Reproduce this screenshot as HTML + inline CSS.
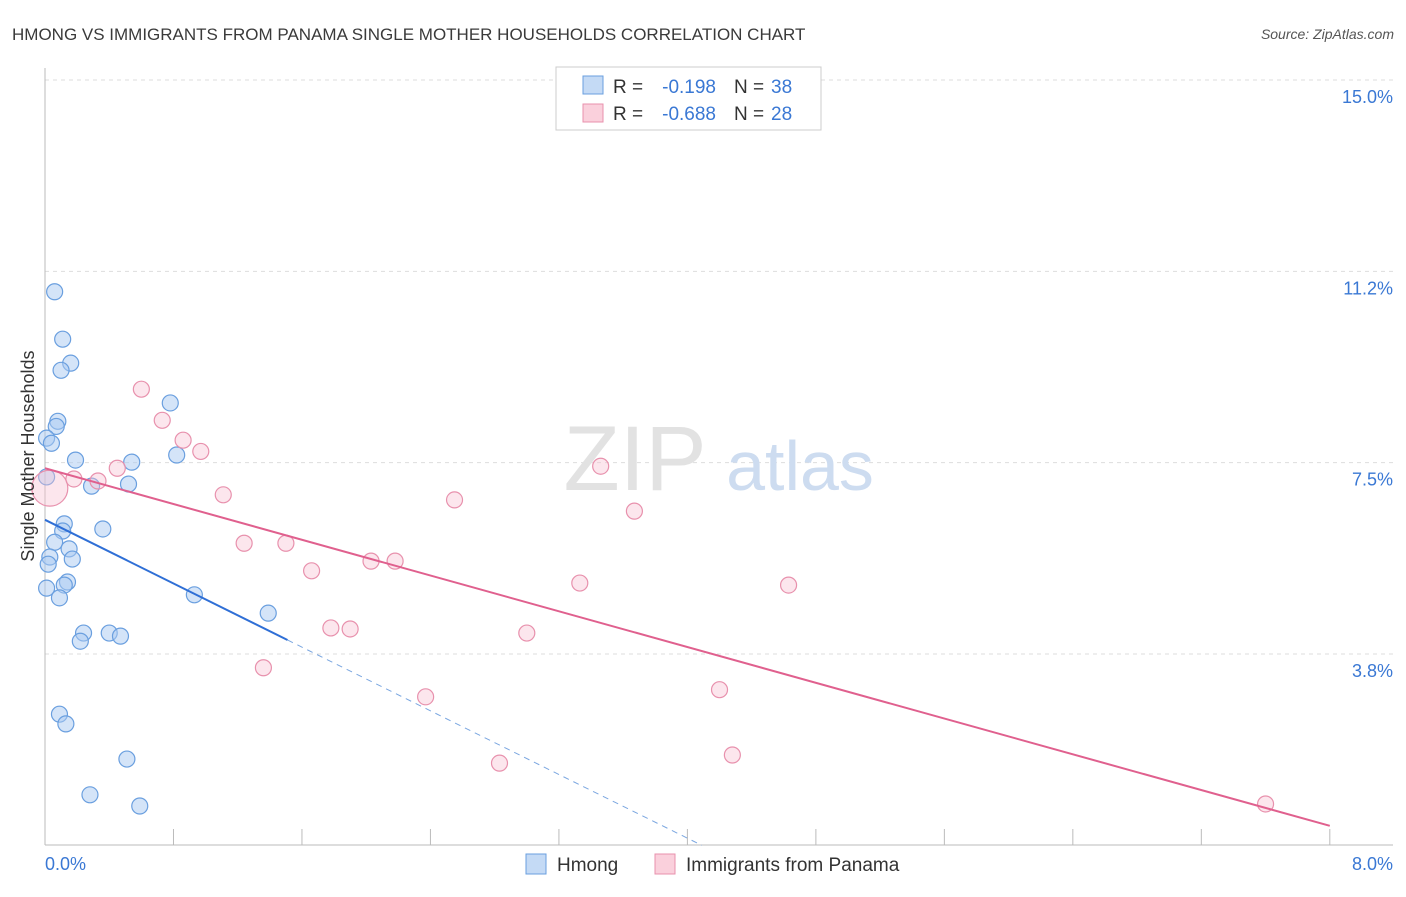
<!DOCTYPE html>
<html><head><meta charset="utf-8"><style>
body{margin:0;background:#fff;font-family:"Liberation Sans",sans-serif}
svg text{font-family:"Liberation Sans",sans-serif}
</style></head><body>
<svg width="1406" height="892">
<text x="12" y="40" font-size="17" fill="#3a3a3a">HMONG VS IMMIGRANTS FROM PANAMA SINGLE MOTHER HOUSEHOLDS CORRELATION CHART</text>
<text x="1394" y="39" font-size="14" fill="#555" font-style="italic" text-anchor="end">Source: ZipAtlas.com</text>
<g id="grid"></g>
<text x="635" y="490" font-size="92" fill="#e2e2e2" font-family="Liberation Serif" text-anchor="middle">ZIP</text>
<text x="800" y="490" font-size="70" fill="#cddcf0" text-anchor="middle">atlas</text>
<g id="marks"></g>
<text x="34" y="456" font-size="18" fill="#333" text-anchor="middle" transform="rotate(-90 34 456)">Single Mother Households</text>
<text x="45" y="870" font-size="18" fill="#3a78d4">0.0%</text>
<text x="1393" y="870" font-size="18" fill="#3a78d4" text-anchor="end">8.0%</text>
<g>
<rect x="556" y="67" width="265" height="63" fill="#fff" stroke="#ccc"/>
<rect x="583" y="76" width="20" height="18" fill="#c4daf5" stroke="#6a9fdf"/>
<text x="613" y="93" font-size="19" fill="#333">R =</text>
<text x="716" y="93" font-size="19" fill="#3a78d4" text-anchor="end">-0.198</text>
<text x="734" y="93" font-size="19" fill="#333">N =</text>
<text x="771" y="93" font-size="19" fill="#3a78d4">38</text>
<rect x="583" y="104" width="20" height="18" fill="#fad0dc" stroke="#e891ad"/>
<text x="613" y="120" font-size="19" fill="#333">R =</text>
<text x="716" y="120" font-size="19" fill="#3a78d4" text-anchor="end">-0.688</text>
<text x="734" y="120" font-size="19" fill="#333">N =</text>
<text x="771" y="120" font-size="19" fill="#3a78d4">28</text>
</g>
<g>
<rect x="526" y="854" width="20" height="20" fill="#c4daf5" stroke="#6a9fdf"/>
<text x="557" y="871" font-size="19" fill="#333">Hmong</text>
<rect x="655" y="854" width="20" height="20" fill="#fad0dc" stroke="#e891ad"/>
<text x="686" y="871" font-size="19" fill="#333">Immigrants from Panama</text>
</g>
</svg>
<script>
const yTicks=[15.0,11.25,7.5,3.75];
const yTickLabels=["15.0%","11.2%","7.5%","3.8%"];
const xTicks=[0,0.8,1.6,2.4,3.2,4.0,4.8,5.6,6.4,7.2,8.0];
const hmongX=[0.06,0.11,0.16,0.10,0.08,0.07,0.01,0.04,0.78,0.82,0.19,0.54,0.01,0.29,0.52,0.12,0.36,0.11,0.06,0.15,0.03,0.17,0.02,0.14,0.12,0.01,0.09,0.93,1.39,0.24,0.40,0.47,0.22,0.09,0.13,0.51,0.28,0.59];
const hmongY=[10.85,9.92,9.45,9.31,8.31,8.21,7.98,7.88,8.67,7.65,7.55,7.51,7.22,7.04,7.08,6.30,6.20,6.16,5.94,5.81,5.65,5.61,5.51,5.16,5.10,5.04,4.85,4.91,4.55,4.16,4.16,4.10,4.00,2.57,2.38,1.69,0.99,0.77];
const panamaX=[0.03,0.60,0.73,0.86,0.97,0.45,0.33,0.18,1.11,3.46,2.55,3.67,1.24,1.50,1.66,2.03,2.18,3.33,4.63,1.78,1.90,3.00,1.36,4.20,2.37,4.28,2.83,7.60];
const panamaY=[7.00,8.94,8.33,7.94,7.72,7.39,7.14,7.18,6.87,7.43,6.77,6.55,5.92,5.92,5.38,5.57,5.57,5.14,5.10,4.26,4.24,4.16,3.48,3.05,2.91,1.77,1.61,0.81];
const panamaR=[18,8,8,8,8,8,8,8,8,8,8,8,8,8,8,8,8,8,8,8,8,8,8,8,8,8,8,8];
const hmongTrend=[6.38,-1.56];
const panamaTrend=[7.39,-0.876];
const sx=v=>45+v*160.6, sy=v=>845.3-v*51.02;
const NS="http://www.w3.org/2000/svg";
function mk(t,a,p){const e=document.createElementNS(NS,t);for(const k in a)e.setAttribute(k,a[k]);p.appendChild(e);return e;}
const grid=document.getElementById('grid'), marks=document.getElementById('marks');
yTicks.forEach((v,i)=>{
 const l=mk('line',{x1:45,x2:1393,y1:sy(v),y2:sy(v),stroke:'#ddd','stroke-dasharray':'4,4'},grid);
 
 
 const t=mk('text',{x:1393,y:sy(v)+23,'font-size':18,fill:'#3a78d4','text-anchor':'end'},grid);
 t.textContent=yTickLabels[i];
 
 
});
const ax=mk('line',{x1:45,x2:45,y1:68,y2:845,stroke:'#bbb'},grid);


const bx=mk('line',{x1:45,x2:1393,y1:845,y2:845,stroke:'#bbb'},grid);


xTicks.forEach(v=>{
 const l=mk('line',{x1:sx(v),x2:sx(v),y1:829,y2:845,stroke:'#bbb'},grid);
 
 
});
hmongX.forEach((x,i)=>{
 const c=mk('circle',{cx:sx(x),cy:sy(hmongY[i]),r:8,fill:'rgba(170,202,242,0.5)',stroke:'#6a9fdf','stroke-width':1.2},marks);
 
 
});
panamaX.forEach((x,i)=>{
 const c=mk('circle',{cx:sx(x),cy:sy(panamaY[i]),r:panamaR[i],fill:'rgba(248,192,210,0.4)',stroke:'#e891ad','stroke-width':1.2},marks);
 
 
});
const hEnd=1.51, hZero=-hmongTrend[0]/hmongTrend[1];
const ht=mk('line',{x1:sx(0),y1:sy(hmongTrend[0]),x2:sx(hEnd),y2:sy(hmongTrend[0]+hmongTrend[1]*hEnd),stroke:'#2f6fd6','stroke-width':2},marks);


const hd=mk('line',{x1:sx(hEnd),y1:sy(hmongTrend[0]+hmongTrend[1]*hEnd),x2:sx(hZero),y2:sy(0),stroke:'#7aa6e0','stroke-width':1,'stroke-dasharray':'6,5'},marks);


const pt=mk('line',{x1:sx(0),y1:sy(panamaTrend[0]),x2:sx(8),y2:sy(panamaTrend[0]+panamaTrend[1]*8),stroke:'#e0608e','stroke-width':2},marks);


</script>
</body></html>
